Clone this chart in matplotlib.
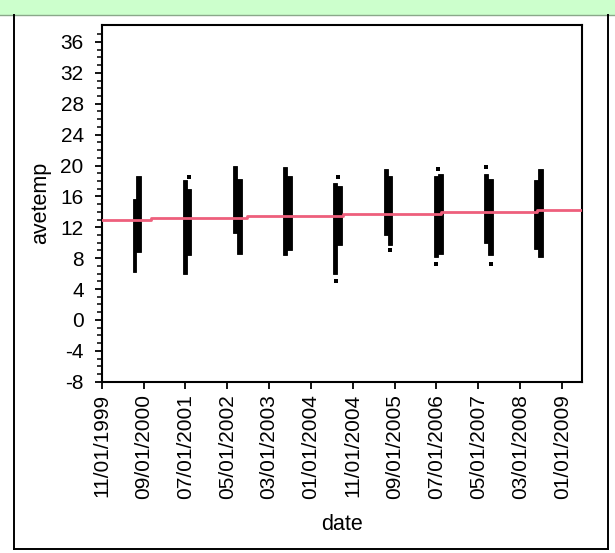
import datetime as dt

import numpy as np
import matplotlib

matplotlib.use("Agg")

import matplotlib.pyplot as plt
import matplotlib.dates as mdates
from matplotlib.patches import Rectangle
from matplotlib.lines import Line2D

# ==========================================
# DATA
# ==========================================

years = [2000, 2001, 2002, 2003, 2004, 2005, 2006, 2007, 2008]

# early part of each summer cluster (mid Jun -> early Jul)
early_lo = [6.2, 6.0, 11.2, 8.4, 6.0, 11.0, 8.2, 9.9, 9.2]
early_hi = [15.7, 18.1, 20.0, 19.8, 17.7, 19.6, 18.7, 18.9, 18.1]

# late part of each summer cluster (early Jul -> mid Aug)
late_lo = [8.8, 8.4, 8.6, 9.0, 9.7, 9.7, 8.6, 8.4, 8.2]
late_hi = [18.7, 17.0, 18.3, 18.7, 17.4, 18.7, 18.9, 18.3, 19.6]

# isolated readings outside the dense bands
single_dates = [
    "2001-07-29", "2004-07-14", "2004-06-28", "2005-07-25",
    "2006-07-12", "2006-06-30", "2007-06-29", "2007-07-31",
]
single_temps = [18.5, 18.5, 5.0, 9.0, 19.6, 7.2, 19.8, 7.3]

# fitted trend (red step line)
trend_dates = [
    "1999-11-01", "2000-10-26", "2002-09-25", "2004-08-19",
    "2006-08-01", "2008-07-01", "2009-05-26",
]
trend_vals = [12.9, 13.25, 13.5, 13.72, 13.97, 14.28, 14.28]

tick_dates = [
    "1999-11-01", "2000-09-01", "2001-07-01", "2002-05-01",
    "2003-03-01", "2004-01-01", "2004-11-01", "2005-09-01",
    "2006-07-01", "2007-05-01", "2008-03-01", "2009-01-01",
]

# ==========================================
# HELPERS
# ==========================================


def to_num(s):
    return mdates.date2num(dt.datetime.strptime(s, "%Y-%m-%d"))


# ==========================================
# FIGURE
# ==========================================

plt.rcParams["font.family"] = ["Liberation Sans", "DejaVu Sans"]
plt.rcParams["axes.unicode_minus"] = False

W, H = 615, 553

fig = plt.figure(figsize=(W / 100, H / 100), dpi=100)

ax_left, ax_right = 101.7, 582.3
ax_top, ax_bottom = 25.0, 381.7

ax = fig.add_axes([
    ax_left / W,
    1 - ax_bottom / H,
    (ax_right - ax_left) / W,
    (ax_bottom - ax_top) / H,
])

# ==========================================
# OUTER FRAME
# ==========================================

fig.add_artist(Rectangle((0, 1 - 15 / H), 1, 15 / H,
                         transform=fig.transFigure,
                         facecolor="#CCFFCC", edgecolor="none"))

frame_kw = dict(transform=fig.transFigure, color="black", linewidth=1.4)

fig.add_artist(Line2D([0, 1], [1 - 15 / H, 1 - 15 / H],
                      transform=fig.transFigure, color="#8aa88a",
                      linewidth=1.0))
fig.add_artist(Line2D([14 / W, 14 / W], [1 - 549 / H, 1 - 15 / H], **frame_kw))
fig.add_artist(Line2D([608 / W, 608 / W], [1 - 549 / H, 1 - 15 / H], **frame_kw))
fig.add_artist(Line2D([14 / W, 608 / W], [1 - 549 / H, 1 - 549 / H], **frame_kw))

# ==========================================
# CLUSTERS
# ==========================================

for i, yr in enumerate(years):

    start = to_num(f"{yr}-06-12")
    split = to_num(f"{yr}-07-10")
    end = to_num(f"{yr}-08-14")

    ax.bar(start, early_hi[i] - early_lo[i], width=split - start,
           bottom=early_lo[i], align="edge", color="black",
           edgecolor="black", linewidth=0.6)

    ax.bar(split, late_hi[i] - late_lo[i], width=end - split,
           bottom=late_lo[i], align="edge", color="black",
           edgecolor="black", linewidth=0.6)

ax.scatter([to_num(d) for d in single_dates], single_temps,
           marker="s", s=7, color="black", linewidths=0)

# ==========================================
# TREND
# ==========================================

ax.step([to_num(d) for d in trend_dates], trend_vals, where="post",
        color="#EE5F7C", linewidth=2.0, zorder=3)

# ==========================================
# AXES
# ==========================================

ax.set_xlim(to_num("1999-11-01"), to_num("2009-05-26"))
ax.set_ylim(-8, 38.2)

ax.set_yticks(np.arange(-8, 37, 4))
ax.set_yticks(np.arange(-8, 38, 1), minor=True)

ticks = [to_num(d) for d in tick_dates]
ax.set_xticks(ticks)
ax.set_xticklabels(
    [dt.datetime.strptime(d, "%Y-%m-%d").strftime("%m/%d/%Y") for d in tick_dates],
    rotation=90,
)

ax.tick_params(axis="both", which="major", direction="out", length=5,
               width=1.3, labelsize=15)
ax.tick_params(axis="x", which="major", pad=4)
ax.tick_params(axis="y", which="major", pad=8)
ax.tick_params(axis="y", which="minor", direction="out", length=3.5,
               width=1.1)

for sp in ax.spines.values():
    sp.set_linewidth(1.5)

ax.set_ylabel("avetemp", fontsize=15.5, labelpad=7)
ax.set_xlabel("date", fontsize=15.5, labelpad=11)

fig.savefig("out.png", dpi=100)
